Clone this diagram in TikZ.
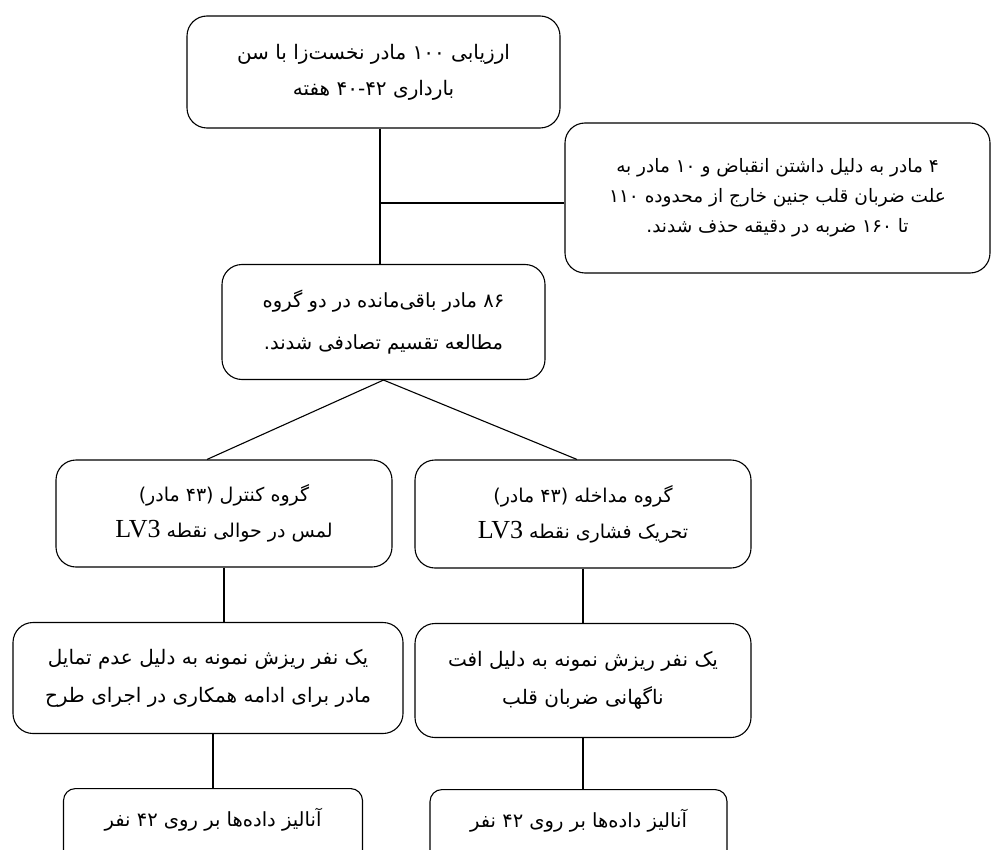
\documentclass[tikz,border=0pt]{standalone}
\usepackage{fontspec}
\newfontfamily\fa[Script=Arabic]{DejaVu Sans}
\newfontfamily\lvfont{Liberation Serif}
\TeXXeTstate=1
\newcommand{\rl}[1]{\beginR #1\endR}
\newcommand{\ltr}[1]{\beginL #1\endL{}}
\newcommand{\lv}{{\lvfont\fontsize{26}{30}\selectfont\beginL LV3\endL}}
\usetikzlibrary{positioning}

\begin{document}
\begin{tikzpicture}[
    x=1pt, y=-1pt,
    every node/.style={draw, rounded corners=20pt, line width=1.1pt, align=center, inner sep=0pt,
        font=\fa\fontsize{20}{36}\selectfont},
    sidebox/.style={font=\fa\fontsize{18.5}{30}\selectfont},
    midbox/.style={font=\fa\fontsize{19.5}{42}\selectfont},
    groupbox/.style={font=\fa\fontsize{19}{36}\selectfont},
    dropbox/.style={font=\fa\fontsize{20}{38}\selectfont},
    resultbox/.style={anchor=north, rounded corners=12pt, inner ysep=14pt, text height=24pt, text depth=60pt, font=\fa\fontsize{19.5}{36}\selectfont},
    link/.style={draw, line width=1.1pt}
]
\useasboundingbox (0,0) rectangle (992,850);
\clip (0,0) rectangle (992,850);
\node[minimum width=373pt, minimum height=112pt] (assess) at (373.5,72)
    {\rl{ارزیابی \ltr{۱۰۰} مادر نخست‌زا با سن}\\ \rl{بارداری \ltr{۴۰-۴۲} هفته}};
\node[sidebox, minimum width=425pt, minimum height=150pt] (excluded) at (777.5,198)
    {\rl{\ltr{۴} مادر به دلیل داشتن انقباض و \ltr{۱۰} مادر به}\\
     \rl{علت ضربان قلب جنین خارج از محدوده \ltr{۱۱۰}}\\
     \rl{تا \ltr{۱۶۰} ضربه در دقیقه حذف شدند.}};
\node[midbox, minimum width=323pt, minimum height=115pt] (random) at (383.5,322)
    {\rl{\ltr{۸۶} مادر باقی‌مانده در دو گروه}\\ \rl{مطالعه تقسیم تصادفی شدند.}};
\node[groupbox, minimum width=336pt, minimum height=107pt] (control) at (224,513.5)
    {\rl{گروه کنترل (\ltr{۴۳} مادر)}\\ \rl{لمس در حوالی نقطه \lv}};
\node[groupbox, minimum width=336pt, minimum height=108pt] (interv) at (583,514)
    {\rl{گروه مداخله (\ltr{۴۳} مادر)}\\ \rl{تحریک فشاری نقطه \lv}};
\node[dropbox, minimum width=390pt, minimum height=111pt] (dropctl) at (208,678)
    {\rl{یک نفر ریزش نمونه به دلیل عدم تمایل}\\ \rl{مادر برای ادامه همکاری در اجرای طرح}};
\node[dropbox, minimum width=336pt, minimum height=114pt] (dropint) at (583,680.5)
    {\rl{یک نفر ریزش نمونه به دلیل افت}\\ \rl{ناگهانی ضربان قلب}};
\node[resultbox, minimum width=299pt] (anactl) at (213,788)
    {\rl{آنالیز داده‌ها بر روی \ltr{۴۲} نفر}};
\node[resultbox, minimum width=297pt] (anaint) at (578.5,789)
    {\rl{آنالیز داده‌ها بر روی \ltr{۴۲} نفر}};
\coordinate (spine) at (380,0);
\draw[link] (spine |- assess.south) -- (spine |- random.north);
\draw[link] (spine |- excluded.west) ++(0,5) -- ([yshift=-5pt]excluded.west);
\draw[link] ([xshift=-17pt]control.north) -- (random.south) -- ([xshift=-6pt]interv.north);
\draw[link] (control.south) -- (control.south |- dropctl.north);
\draw[link] (anactl.north |- dropctl.south) -- (anactl.north);
\draw[link] (interv.south) -- (dropint.north);
\draw[link] (dropint.south) -- (dropint.south |- anaint.north);
\end{tikzpicture}
\end{document}
